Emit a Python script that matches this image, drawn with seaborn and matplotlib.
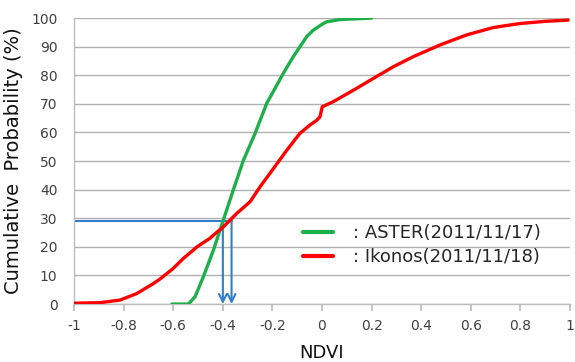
import matplotlib
matplotlib.use("Agg")
import matplotlib.pyplot as plt
import seaborn as sns
import pandas as pd

aster_x = [-0.606, -0.539, -0.512, -0.479, -0.438, -0.398, -0.358, -0.317, -0.27, -0.223,
           -0.156, -0.116, -0.089, -0.062, -0.035, 0.005, 0.019, 0.073, 0.2]
aster_y = [0, 0, 2.6, 9.5, 18.9, 29.4, 39.9, 50.3, 59.7, 70.2,
           80.7, 86.5, 90, 93.5, 95.8, 98.1, 98.7, 99.5, 100]

ikonos_x = [-1.0, -0.895, -0.815, -0.747, -0.68, -0.653, -0.6, -0.559, -0.519, -0.505,
            -0.452, -0.438, -0.398, -0.344, -0.29, -0.25, -0.196, -0.142, -0.089, -0.05,
            -0.021, -0.008, 0.001, 0.046, 0.127, 0.207, 0.288, 0.368, 0.476, 0.583,
            0.691, 0.798, 0.906, 0.993]
ikonos_y = [0.3, 0.5, 1.4, 3.7, 7.2, 8.8, 12.5, 16, 18.9, 20,
            23, 24.1, 27, 31.7, 35.8, 41, 47.4, 53.8, 59.7, 62.5,
            64.3, 65.5, 69, 70.8, 74.8, 78.9, 83, 86.5, 90.6, 94.1,
            96.7, 98.1, 98.9, 99.3]

labels = [": ASTER(2011/11/17)", ": Ikonos(2011/11/18)"]
ref_prob = 29
ref_x = [-0.4, -0.365]

xticks = [-1, -0.8, -0.6, -0.4, -0.2, 0, 0.2, 0.4, 0.6, 0.8, 1]
xticklabels = ["-1", "-0.8", "-0.6", "-0.4", "-0.2", "0", "0.2", "0.4", "0.6", "0.8", "1"]
yticks = [0, 10, 20, 30, 40, 50, 60, 70, 80, 90, 100]

df = pd.concat([
    pd.DataFrame({"NDVI": aster_x, "P": aster_y, "s": labels[0]}),
    pd.DataFrame({"NDVI": ikonos_x, "P": ikonos_y, "s": labels[1]}),
])

sns.set_theme(style="white")
plt.rcParams["font.family"] = ["DejaVu Sans"]

fig = plt.figure(figsize=(5.75, 3.62), dpi=100)
ax = fig.add_axes([0.129, 0.16, 0.862, 0.79])

blue = "#2f7fd0"
ax.plot([-1, ref_x[1]], [ref_prob, ref_prob], color=blue, lw=1.5, zorder=1)
for rx in ref_x:
    ax.annotate("", xy=(rx, 0), xytext=(rx, ref_prob),
                arrowprops=dict(arrowstyle="->", color=blue, lw=1.5,
                                mutation_scale=14, shrinkA=0, shrinkB=0), zorder=1)

sns.lineplot(data=df, x="NDVI", y="P", hue="s", palette=["#1db04a", "#ff0000"],
             sort=False, estimator=None, ax=ax, linewidth=2.4, zorder=3)
for line in ax.get_lines():
    line.set_solid_joinstyle("round")

ax.set_xlim(-1, 1)
ax.set_ylim(0, 100)
ax.set_xticks(xticks)
ax.set_xticklabels(xticklabels)
ax.set_yticks(yticks)
ax.tick_params(axis="x", bottom=True, length=5, color="#bdbdbd", labelsize=10,
               labelcolor="#404040", pad=6)
ax.tick_params(axis="y", left=False, labelsize=10, labelcolor="#404040", pad=6)
ax.yaxis.grid(True, color="#b0b0b0", lw=1)
ax.xaxis.grid(False)
for s in ["top", "right"]:
    ax.spines[s].set_visible(False)
for s in ["left", "bottom"]:
    ax.spines[s].set_color("#bdbdbd")
    ax.spines[s].set_linewidth(1)
ax.set_axisbelow(True)

ax.set_ylabel("Cumulative  Probability (%)", fontsize=14, color="#111111", labelpad=6)
ax.set_xlabel("NDVI", fontsize=13, color="#111111", labelpad=8)

leg = ax.legend(loc="lower right", bbox_to_anchor=(0.975, 0.075), frameon=False,
                fontsize=13, handlelength=1.7, handletextpad=1.1, labelspacing=0.35)
for h in leg.get_lines():
    h.set_linewidth(3)

fig.savefig("out.png", dpi=100)
